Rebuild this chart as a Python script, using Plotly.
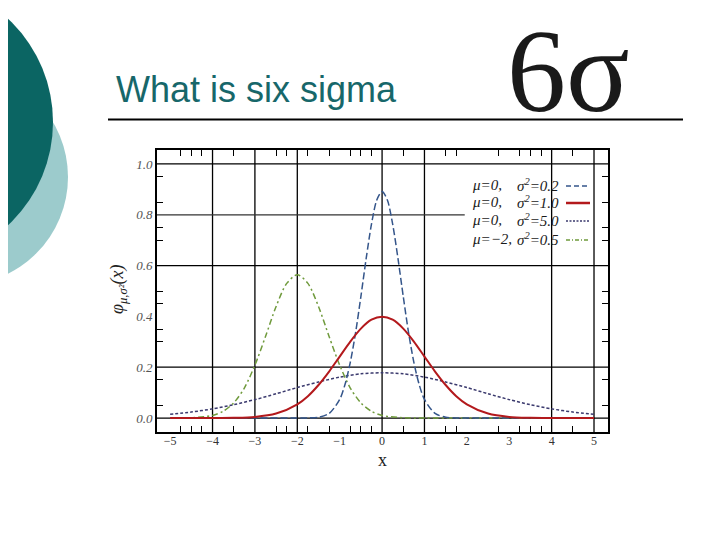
import plotly.graph_objects as go

# ---------------- data ----------------
x_a = [-5, -2, -1.75, -1.5, -1.25, -1.0, -0.875, -0.75, -0.625, -0.5, -0.375, -0.25, -0.125, 0,
       0.125, 0.25, 0.375, 0.5, 0.625, 0.75, 0.875, 1.0, 1.25, 1.5, 1.75, 2, 5]
y_a = [0, 0, 0.0004, 0.0032, 0.018, 0.073, 0.132, 0.219, 0.336, 0.478, 0.628, 0.763, 0.858, 0.892,
       0.858, 0.763, 0.628, 0.478, 0.336, 0.219, 0.132, 0.073, 0.018, 0.0032, 0.0004, 0, 0]

x_b = [-5, -4, -3.5, -3, -2.5, -2, -1.75, -1.5, -1.25, -1, -0.75, -0.5, -0.25, 0,
       0.25, 0.5, 0.75, 1, 1.25, 1.5, 1.75, 2, 2.5, 3, 3.5, 4, 5]
y_b = [0, 0.0001, 0.0009, 0.0044, 0.0175, 0.054, 0.086, 0.130, 0.183, 0.242, 0.301, 0.352, 0.387, 0.399,
       0.387, 0.352, 0.301, 0.242, 0.183, 0.130, 0.086, 0.054, 0.0175, 0.0044, 0.0009, 0.0001, 0]

x_c = [-5, -4.5, -4, -3.5, -3, -2.5, -2, -1.5, -1, -0.5, 0, 0.5, 1, 1.5, 2, 2.5, 3, 3.5, 4, 4.5, 5]
y_c = [0.0146, 0.0235, 0.0360, 0.0524, 0.0725, 0.0955, 0.120, 0.142, 0.161, 0.174, 0.178,
       0.174, 0.161, 0.142, 0.120, 0.0955, 0.0725, 0.0524, 0.0360, 0.0235, 0.0146]

x_d = [-5, -4.5, -4, -3.75, -3.5, -3.25, -3, -2.75, -2.5, -2.25, -2, -1.75, -1.5, -1.25, -1,
       -0.75, -0.5, -0.25, 0, 0.5, 1, 5]
y_d = [0.0001, 0.0011, 0.0103, 0.0264, 0.0595, 0.118, 0.208, 0.321, 0.439, 0.530, 0.564, 0.530,
       0.439, 0.321, 0.208, 0.118, 0.0595, 0.0264, 0.0103, 0.0011, 0.0001, 0]

legend_mu = ["μ=0,", "μ=0,", "μ=0,", "μ=−2,"]
legend_sigma = ["σ<sup>2</sup>=0.2", "σ<sup>2</sup>=1.0", "σ<sup>2</sup>=5.0", "σ<sup>2</sup>=0.5"]

x_ticks = [-5, -4, -3, -2, -1, 0, 1, 2, 3, 4, 5]
y_ticks = [0.0, 0.2, 0.4, 0.6, 0.8, 1.0]
x_minor = [-4.75, -4.5, -4.25, -3.5, -2.5, -2.25, -1.75, -1.25, -0.75, -0.5, -0.25,
           0.5, 1.5, 1.75, 2.75, 3.25, 3.5, 3.75, 4.5]
y_minor = [0.05, 0.15, 0.3, 0.35, 0.45, 0.5, 0.7, 0.75, 0.85, 0.95]
grid_x = [-4, -3, -2, 0, 1, 4, 5]
grid_y = [0.0, 0.2, 0.6, 1.0]
grid_y_partial = 0.8
grid_y_partial_end = 1.95

title_text = "What is six sigma"
logo_text = "6σ"

# ---------------- styles ----------------
col_a = "#34558a"
col_b = "#b3191c"
col_c = "#3b3a6e"
col_d = "#6f9a3c"

OFF = 8                      # page body margin of the html page
W, H = 720 - OFF, 540 - OFF
L, R, T, B = 157, 608, 150, 432   # plot area in window pixels


def px(x):
    return (x - L) / (R - L)


def py(y):
    return (B - y) / (B - T)


fig = go.Figure()
fig.add_trace(go.Scatter(x=x_c, y=y_c, mode="lines", line=dict(color=col_c, width=1.5, dash="3px,2px", shape="spline", smoothing=0.8), showlegend=False))
fig.add_trace(go.Scatter(x=x_d, y=y_d, mode="lines", line=dict(color=col_d, width=1.5, dash="6px,3px,2px,3px", shape="spline", smoothing=0.8), showlegend=False))
fig.add_trace(go.Scatter(x=x_a, y=y_a, mode="lines", line=dict(color=col_a, width=1.5, dash="7px,3px", shape="spline", smoothing=0.8), showlegend=False))
fig.add_trace(go.Scatter(x=x_b, y=y_b, mode="lines", line=dict(color=col_b, width=2, shape="spline", smoothing=0.8), showlegend=False))

shapes = []
# decorative circles
shapes.append(dict(type="circle", xref="paper", yref="paper", layer="below",
                   x0=px(-40 - 108), x1=px(-40 + 108), y0=py(177 + 108), y1=py(177 - 108),
                   fillcolor="#9ccbcc", line=dict(width=0)))
shapes.append(dict(type="circle", xref="paper", yref="paper", layer="below",
                   x0=px(-88 - 141), x1=px(-88 + 141), y0=py(122 + 141), y1=py(122 - 141),
                   fillcolor="#0b6563", line=dict(width=0)))
# title rule
shapes.append(dict(type="line", xref="paper", yref="paper", x0=px(108), x1=px(683), y0=py(119.5), y1=py(119.5),
                   line=dict(color="black", width=2)))
# grid lines
for gx in grid_x:
    shapes.append(dict(type="line", xref="x", yref="paper", x0=gx, x1=gx, y0=0, y1=1, layer="below",
                       line=dict(color="black", width=1.3)))
for gy in grid_y:
    shapes.append(dict(type="line", xref="paper", yref="y", x0=0, x1=1, y0=gy, y1=gy, layer="below",
                       line=dict(color="black", width=1.3)))
shapes.append(dict(type="line", xref="x", yref="y", x0=-5.31, x1=grid_y_partial_end, y0=grid_y_partial,
                   y1=grid_y_partial, layer="below", line=dict(color="#333", width=1.2)))

# legend (samples to the right of text)
legend_rows = [185, 202, 220, 239]
legend_styles = [dict(color=col_a, width=1.5, dash="5px,3px"),
                 dict(color=col_b, width=2.5),
                 dict(color=col_c, width=1.3, dash="2px,1.5px"),
                 dict(color=col_d, width=1.3, dash="4px,2px,1px,2px")]
annotations = []
lf = dict(family="Liberation Serif", size=15, color="#1a1a1a", style="italic")
for yy, mu, sg, st in zip(legend_rows, legend_mu, legend_sigma, legend_styles):
    annotations.append(dict(xref="paper", yref="paper", x=px(470), y=py(yy), text=mu, showarrow=False,
                            xanchor="left", yanchor="middle", font=lf))
    annotations.append(dict(xref="paper", yref="paper", x=px(561), y=py(yy), text=sg, showarrow=False,
                            xanchor="right", yanchor="middle", font=lf))
    shapes.append(dict(type="line", xref="paper", yref="paper", x0=px(566), x1=px(590), y0=py(yy + 1),
                       y1=py(yy + 1), line=st))

# title and logo
annotations.append(dict(xref="paper", yref="paper", x=px(114), y=py(89), text=title_text, showarrow=False,
                        xanchor="left", yanchor="middle",
                        font=dict(family="Liberation Sans", size=36, color="#17676a")))
annotations.append(dict(xref="paper", yref="paper", x=px(568), y=py(71), text=logo_text, showarrow=False,
                        xanchor="center", yanchor="middle",
                        font=dict(family="Liberation Serif", size=118, color="#1a1a1a")))
# axis titles
annotations.append(dict(xref="paper", yref="paper", x=px(382), y=py(460), text="x", showarrow=False,
                        xanchor="center", yanchor="middle",
                        font=dict(family="Liberation Serif", size=18, color="#222")))
annotations.append(dict(xref="paper", yref="paper", x=px(118), y=py(290),
                        text="φ<sub>μ,σ²</sub>(x)", showarrow=False, textangle=-90,
                        xanchor="center", yanchor="middle",
                        font=dict(family="Liberation Serif", size=18, color="#222", style="italic")))

fig.update_layout(
    width=W, height=H, autosize=False,
    margin=dict(l=L - OFF, r=720 - R, t=T - OFF, b=540 - B, pad=0),
    paper_bgcolor="white", plot_bgcolor="white",
    showlegend=False,
    shapes=shapes, annotations=annotations,
    xaxis=dict(range=[-5.31, 5.33], showgrid=False, zeroline=False, showline=True, linecolor="black",
               linewidth=2, mirror="allticks", ticks="inside", ticklen=0, tickvals=x_ticks,
               ticklabelstandoff=-3,
               tickfont=dict(family="Liberation Serif", size=12, color="#333"),
               minor=dict(tickmode="array", tickvals=x_minor, ticks="inside", ticklen=6, tickwidth=1.3,
                          tickcolor="black", showgrid=False)),
    yaxis=dict(range=[-0.055, 1.055], showgrid=False, zeroline=False, showline=True, linecolor="black",
               linewidth=2, mirror="allticks", ticks="inside", ticklen=0, tickvals=y_ticks,
               tickformat=".1f",
               tickfont=dict(family="Liberation Serif", size=13, color="#555", style="italic"),
               minor=dict(tickmode="array", tickvals=y_minor, ticks="inside", ticklen=6, tickwidth=1.3,
                          tickcolor="black", showgrid=False)),
)

fig.write_html("out.html")
